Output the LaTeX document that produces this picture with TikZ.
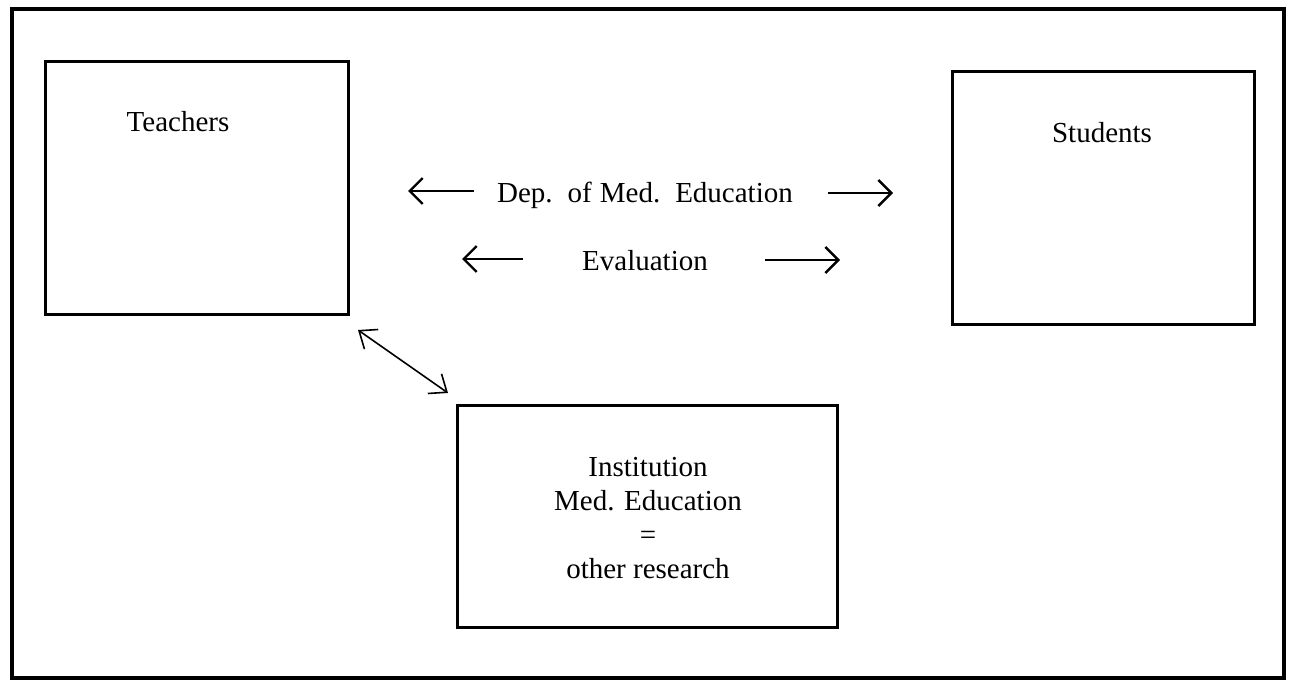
\documentclass[tikz,border=0pt]{standalone}
\usepackage{fontspec}
\setmainfont{Liberation Serif}
\usetikzlibrary{arrows.meta}
\begin{document}
\begin{tikzpicture}[x=1pt,y=-1pt,
  box/.style={draw,line width=3pt,inner sep=0pt},
  lbl/.style={font=\fontsize{29}{34}\selectfont,inner sep=0pt,align=center},
  harrow/.style={line width=2.4pt,-{Straight Barb[length=13pt,width=26pt,line width=2.4pt]}},
  darrow/.style={line width=1.6pt,{Straight Barb[length=15pt,width=24pt,line width=1.6pt]}-{Straight Barb[length=15pt,width=24pt,line width=1.6pt]}}]
\useasboundingbox (0,0) rectangle (1290,684);
\draw[line width=4pt] (12,9) rectangle (1284,678);
% boxes
\node[box,minimum width=303pt,minimum height=253pt] (teach) at (196.5,188.5) {};
\node[box,minimum width=302pt,minimum height=253pt] (stud) at (1103,198.5) {};
\node[box,minimum width=380pt,minimum height=222pt] (inst) at (647,516) {};
% labels
\node[lbl] (teachlbl) at (178,122) {Teachers};
\node[lbl] (studlbl) at (1102,133) {Students};
\node[lbl] (instlbl) at (648,518) {Institution\\Med. Education\\=\\other research};
\node[lbl,anchor=base] (dep) at (645,203) {\spaceskip=8pt\xspaceskip=15pt Dep. of Med. Education};
\node[lbl,anchor=base] (eval) at (645,271) {Evaluation};
% arrow ends
\coordinate (depL) at (408,191);
\coordinate (depR) at (893,193);
\coordinate (evalL) at (462,259);
\coordinate (evalR) at (840,260);
\coordinate (diagA) at (358,330);
\coordinate (diagB) at (448,393);
\draw[harrow] (dep.west |- depL) ++(-23,0) -- (depL);
\draw[harrow] (dep.east |- depR) ++(35,0) -- (depR);
\draw[harrow] (eval.west |- evalL) ++(-59,0) -- (evalL);
\draw[harrow] (eval.east |- evalR) ++(57,0) -- (evalR);
\draw[darrow] (diagA) -- (diagB);
\end{tikzpicture}
\end{document}
